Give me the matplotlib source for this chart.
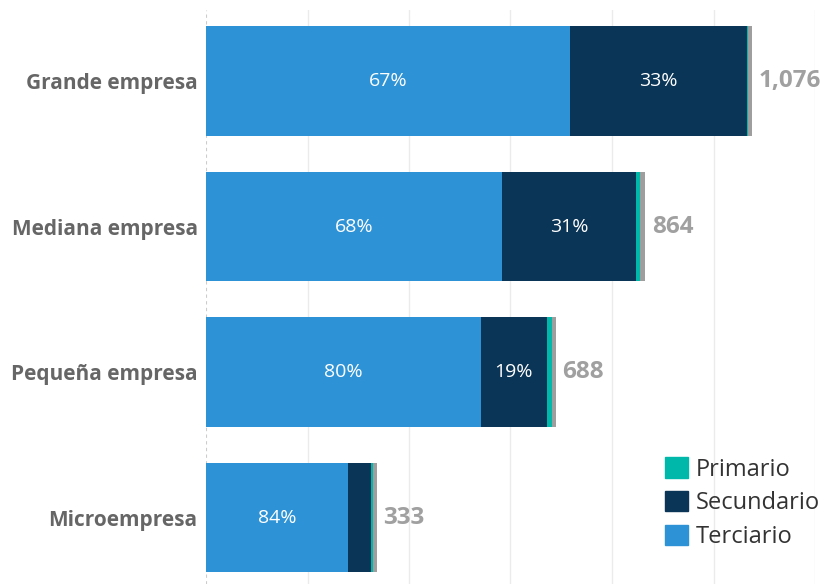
import matplotlib
matplotlib.use("Agg")
import matplotlib.pyplot as plt
from matplotlib.patches import Patch

plt.rcParams['font.family'] = ['Open Sans', 'DejaVu Sans']

# data
categories = ["Grande empresa", "Mediana empresa", "Pequeña empresa", "Microempresa"]
terciario = [717, 583, 541, 280]
secundario = [349, 264, 131, 46]
primario = [2, 9, 9, 3]
otros = [8, 10, 8, 7]
totals = [1076, 864, 688, 333]
pct_terciario = ["67%", "68%", "80%", "84%"]
pct_secundario = ["33%", "31%", "19%", ""]

c_ter = "#2e93d6"
c_sec = "#0b3556"
c_pri = "#00b8aa"
c_otr = "#9e9e9e"

fig = plt.figure(figsize=(8.25, 5.84), dpi=100)
ax = fig.add_axes([206/825, 0, (815-206)/825, 574/584])

y = list(range(len(categories)))
h = 0.75
left2 = [t for t in terciario]
left3 = [t + s for t, s in zip(terciario, secundario)]
left4 = [t + s + p for t, s, p in zip(terciario, secundario, primario)]
ends = [l + o for l, o in zip(left4, otros)]

ax.barh(y, terciario, height=h, color=c_ter, zorder=3)
ax.barh(y, secundario, left=left2, height=h, color=c_sec, zorder=3)
ax.barh(y, primario, left=left3, height=h, color=c_pri, zorder=3)
ax.barh(y, otros, left=left4, height=h, color=c_otr, zorder=3)

for i in y:
    ax.text(terciario[i] / 2, i, pct_terciario[i], ha='center', va='center',
            color='white', fontsize=14, zorder=4)
    if pct_secundario[i]:
        ax.text(terciario[i] + secundario[i] / 2, i, pct_secundario[i], ha='center',
                va='center', color='white', fontsize=14, zorder=4)
    ax.annotate(f"{totals[i]:,}", (ends[i], i), xytext=(5, 0), textcoords='offset points',
                ha='left', va='center', color='#a0a0a0', fontsize=17.5, fontweight='bold')

ax.set_xlim(0, 1200)
ax.set_ylim(3.457, -0.488)
ax.set_xticks([200, 400, 600, 800, 1000, 1200])
ax.grid(axis='x', color='#ebebeb', linewidth=1, zorder=0)
ax.axvline(0, color='#cccccc', linestyle=(0, (3, 3)), linewidth=0.8, zorder=1)
ax.tick_params(axis='x', length=0, labelbottom=False)
ax.tick_params(axis='y', length=0, pad=6)
ax.set_yticks(y)
ax.set_yticklabels(categories, fontsize=15, fontweight='bold', color='#666666')
for s in ax.spines.values():
    s.set_visible(False)

handles = [Patch(color=c_pri, label="Primario"),
           Patch(color=c_sec, label="Secundario"),
           Patch(color=c_ter, label="Terciario")]
fig.legend(handles=handles, loc='upper left', bbox_to_anchor=(644/825, 1 - 436/584),
           frameon=False, fontsize=17, handlelength=0.95, handleheight=0.95,
           handletextpad=0.35, labelspacing=0.4, labelcolor='#333333')

fig.savefig("out.png", dpi=100)
